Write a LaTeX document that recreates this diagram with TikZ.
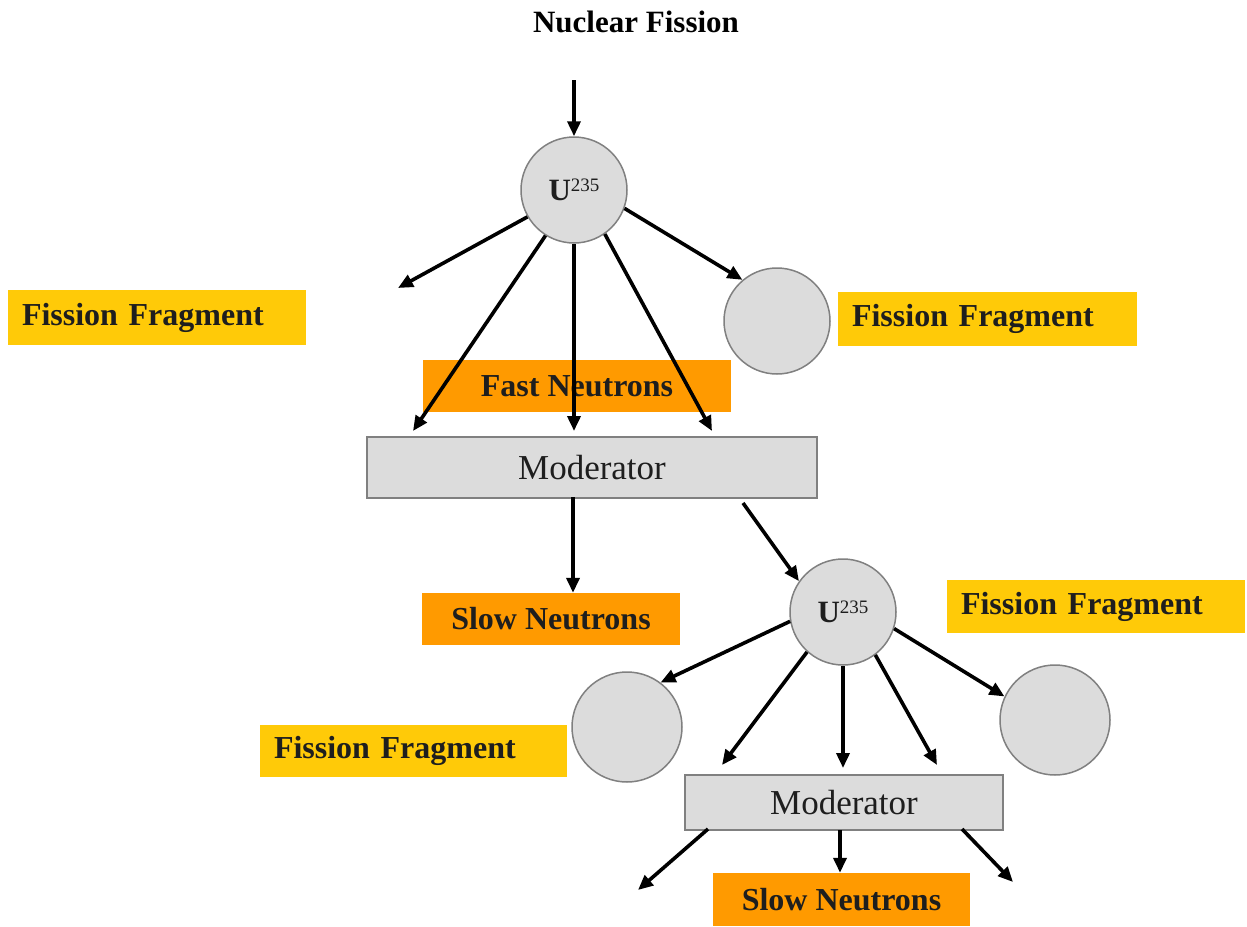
\documentclass[tikz,border=0pt]{standalone}
\usepackage{fontspec}
\setmainfont{Liberation Serif}
\usetikzlibrary{arrows.meta}
\definecolor{fragY}{HTML}{FFCA08}
\definecolor{neutO}{HTML}{FF9A00}
\definecolor{nucG}{HTML}{DCDCDC}
\definecolor{edgeG}{HTML}{808080}
\definecolor{txt}{HTML}{1E1E1E}
\begin{document}
\begin{tikzpicture}[x=1pt,y=-1pt,
  arr/.style={line width=3.6pt,-{Triangle[length=15pt,width=13pt]}},
  lbl/.style={font=\fontsize{32}{38}\selectfont\bfseries, text=txt, inner sep=0pt},
  fragbox/.style={lbl, fill=fragY, align=left, inner xsep=14pt, minimum height=#1},
  neutbox/.style={lbl, fill=neutO, minimum height=52pt},
  modbox/.style={draw=edgeG, line width=2pt, fill=nucG, text=txt, inner sep=0pt,
    font=\fontsize{35}{40}\selectfont},
  nucleus/.style={circle, draw=edgeG, line width=1.5pt, fill=nucG, inner sep=0pt,
    minimum size=#1},
  ulabel/.style={text=txt, font=\fontsize{31}{34}\selectfont\bfseries}
]
\useasboundingbox (0,0) rectangle (1247,926);

% title
\node[font=\fontsize{31}{36}\selectfont\bfseries] (title) at (636,22) {Nuclear Fission};

% label boxes
\node[fragbox=55pt, text width=270pt] (fragL) at (157,317.5) {Fission Fragment};
\node[fragbox=54pt, text width=271pt] (fragR) at (987.5,319) {Fission Fragment};
\node[fragbox=53pt, text width=270pt] (fragR2) at (1096,606.5) {Fission Fragment};
\node[fragbox=52pt, text width=279pt] (fragL2) at (413.5,751) {Fission Fragment};
\node[neutbox, minimum width=308pt] (fast) at (577,386) {Fast Neutrons};
\node[neutbox, minimum width=258pt] (slow1) at (551,619) {Slow Neutrons};
\node[neutbox, minimum width=257pt, minimum height=53pt] (slow2) at (841.5,899.5) {Slow Neutrons};

% moderators
\node[modbox, minimum width=450pt, minimum height=61pt] (mod1) at (592,467.5) {Moderator};
\node[modbox, minimum width=318pt, minimum height=55pt] (mod2) at (844,802.5) {Moderator};

% nuclei
\node[nucleus=106pt, ulabel] (u1) at (574,190) {U\raisebox{0.3em}{\fontsize{19}{20}\selectfont\mdseries 235}};
\node[nucleus=106pt] (f1) at (777,321) {};
\node[nucleus=106pt, ulabel] (u2) at (843,612) {U\raisebox{0.3em}{\fontsize{19}{20}\selectfont\mdseries 235}};
\node[nucleus=110pt] (f2) at (627,727) {};
\node[nucleus=110pt] (f3) at (1055,720) {};

% free ends
\coordinate (in1) at (574,80);
\coordinate (e1) at (398,288);
\coordinate (a1) at (413,431);
\coordinate (a2) at (574,431);
\coordinate (a3) at (712,431);
\coordinate (m1b) at (573,497);
\coordinate (m1r) at (743,503);
\coordinate (b1) at (722,765);
\coordinate (b2) at (843,768);
\coordinate (b3) at (937,765);
\coordinate (m2l) at (708,829);
\coordinate (m2c) at (840,830);
\coordinate (m2r) at (962,829);
\coordinate (c1) at (638,890);
\coordinate (c3) at (1013,882);

% first fission
\draw[arr] (in1) -- (u1.north);
\draw[arr] (u1.210) -- (e1);
\draw[arr] (u1.238) -- (a1);
\draw[arr] (u1.270) -- (a2);
\draw[arr] (u1.305) -- (a3);
\draw[arr] (u1.340) -- (f1.130);

% moderator 1
\draw[arr] (m1b) -- (m1b |- slow1.north);
\draw[arr] (m1r) -- (u2.145);

% second fission
\draw[arr] (u2.190) -- (f2.53);
\draw[arr] (u2.228) -- (b1);
\draw[arr] (u2.270) -- (b2);
\draw[arr] (u2.307) -- (b3);
\draw[arr] (u2.342) -- (f3.155);

% moderator 2
\draw[arr] (m2l) -- (c1);
\draw[arr] (m2c) -- (m2c |- slow2.north);
\draw[arr] (m2r) -- (c3);
\end{tikzpicture}
\end{document}
